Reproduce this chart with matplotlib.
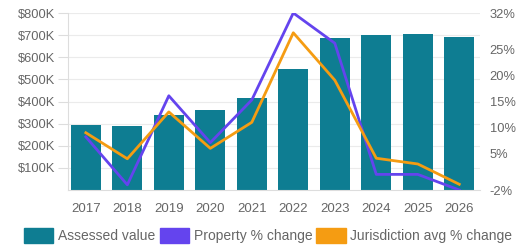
import matplotlib
matplotlib.use("Agg")
import matplotlib.pyplot as plt
from matplotlib.patches import Patch
from matplotlib.ticker import FuncFormatter

plt.rcParams['font.family'] = ['Liberation Sans', 'DejaVu Sans']

# data
years = ['2017', '2018', '2019', '2020', '2021', '2022', '2023', '2024', '2025', '2026']
assessed_k = [294, 289, 339, 362, 416, 547, 687, 700, 705, 692]
property_pct = [8.2, -1.0, 16.1, 7.1, 15.3, 32.0, 26.2, 1.0, 1.0, -2.0]
jurisdiction_pct = [9.0, 4.0, 13.0, 6.0, 11.0, 28.2, 19.1, 4.1, 3.0, -0.9]
left_ticks = [100, 200, 300, 400, 500, 600, 700, 800]
right_ticks = [-2, 5, 10, 15, 20, 25, 32]

teal = '#0e7d92'
purple = '#6444ee'
orange = '#f59c12'
txt = '#666666'

fig = plt.figure(figsize=(5.21, 2.45), dpi=100)
ax = fig.add_axes([68 / 521, 1 - 190 / 245, (480 - 68) / 521, 177 / 245])
x = list(range(len(years)))

ax.bar(x, assessed_k, width=0.72, color=teal, zorder=2)
ax.set_ylim(0, 800)
ax.set_xlim(-0.43, 9.5)
ax.set_yticks(left_ticks)
ax.yaxis.set_major_formatter(FuncFormatter(lambda v, p: f'${int(v)}K'))
ax.set_xticks(x)
ax.set_xticklabels(years)
ax.grid(axis='y', color='#ebebeb', linewidth=0.8, zorder=0)
ax.tick_params(axis='y', length=7, color='#dddddd', labelsize=9.3, labelcolor=txt, pad=2)
ax.tick_params(axis='x', length=0, labelsize=9.5, labelcolor=txt, pad=9)
for s in ['top', 'right']:
    ax.spines[s].set_visible(False)
for s in ['left', 'bottom']:
    ax.spines[s].set_color('#dddddd')
    ax.spines[s].set_linewidth(0.8)

ax2 = ax.twinx()
ax2.plot(x, property_pct, color=purple, linewidth=2.0, zorder=3)
ax2.plot(x, jurisdiction_pct, color=orange, linewidth=2.0, zorder=3)
ax2.set_ylim(-2, 32)
ax2.set_yticks(right_ticks)
ax2.yaxis.set_major_formatter(FuncFormatter(lambda v, p: f'{int(v)}%'))
ax2.tick_params(axis='y', length=0, labelsize=9.3, labelcolor=txt, pad=7)
for s in ax2.spines.values():
    s.set_visible(False)

handles = [Patch(color=teal), Patch(color=purple), Patch(color=orange)]
labels = ['Assessed value', 'Property % change', 'Jurisdiction avg % change']
fig.legend(handles, labels, loc='center', bbox_to_anchor=(0.515, 0.04), ncol=3,
           frameon=False, fontsize=10, labelcolor=txt, handlelength=2.1,
           handleheight=1.3, handletextpad=0.35, columnspacing=0.3)

fig.savefig('out.png', dpi=100)
